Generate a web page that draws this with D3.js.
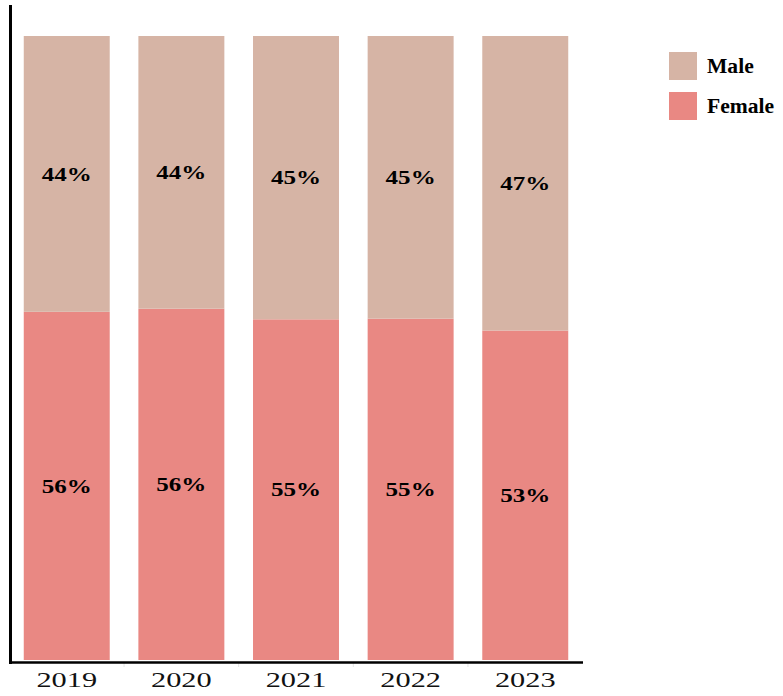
<!DOCTYPE html>
<html>
<head>
<meta charset="utf-8">
<script src="https://cdn.jsdelivr.net/npm/d3@7"></script>
<style>
  body { margin: 0; background: #fff; }
  svg text { font-family: 'Liberation Serif', 'Times New Roman', Times, 'DejaVu Serif', serif; }
</style>
</head>
<body>
<svg id="chart"></svg>
<script>
const width = 783;
const height = 696;

const years = ['2019', '2020', '2021', '2022', '2023'];
const female = [55.8, 56.3, 54.6, 54.7, 52.8];
const male = [44.2, 43.7, 45.4, 45.3, 47.2];
const keys = ['Female', 'Male'];
const legendKeys = ['Male', 'Female'];

const colors = {Male: '#d6b4a5', Female: '#e98883'};

const rows = years.map((year, i) => ({year, Female: female[i], Male: male[i]}));

const svg = d3.select('#chart')
  .attr('width', width)
  .attr('height', height);

const x = d3.scaleBand()
  .domain(years)
  .range([10, 582])
  .paddingInner(0.25)
  .paddingOuter(0.12);

const y = d3.scaleLinear()
  .domain([0, 100])
  .range([660, 36]);

const stacked = d3.stack().keys(keys)(rows);

const layer = svg.selectAll('.layer')
  .data(stacked)
  .enter()
  .append('g')
    .attr('class', 'layer')
    .attr('fill', s => colors[s.key]);

layer.selectAll('rect')
  .data(s => s)
  .enter()
  .append('rect')
    .attr('x', d => x(d.data.year))
    .attr('width', x.bandwidth())
    .attr('y', d => y(d[1]))
    .attr('height', d => y(d[0]) - y(d[1]));

// percent labels, centred in each segment
layer.selectAll('text')
  .data(s => s)
  .enter()
  .append('text')
    .attr('transform', d => {
      const cx = x(d.data.year) + x.bandwidth() / 2;
      const cy = (y(d[0]) + y(d[1])) / 2;
      return `translate(${cx},${cy}) scale(1.32,1)`;
    })
    .attr('text-anchor', 'middle')
    .attr('dy', '0.35em')
    .style('font-size', '19px')
    .style('font-weight', 'bold')
    .attr('fill', '#000')
    .text(d => Math.round(d[1] - d[0]) + '%');

// faint separators under the axis
svg.selectAll('.sep')
  .data(years.slice(1))
  .enter()
  .append('line')
    .attr('class', 'sep')
    .attr('x1', d => x(d) - x.step() * x.paddingInner() / 2)
    .attr('x2', d => x(d) - x.step() * x.paddingInner() / 2)
    .attr('y1', 663)
    .attr('y2', 667)
    .attr('stroke', '#e4e4e4')
    .attr('stroke-width', 1);

const xAxis = svg.append('g')
  .attr('transform', 'translate(0,662.5)')
  .call(d3.axisBottom(x).tickSize(0).tickSizeOuter(0).tickPadding(8));

xAxis.attr('font-family', null);

xAxis.select('.domain')
  .attr('stroke', '#000')
  .attr('stroke-width', 2.5)
  .attr('d', 'M9,0H583');

xAxis.selectAll('text')
  .style('font-size', '22px')
  .attr('fill', '#111')
  .attr('y', 0)
  .attr('dy', 0)
  .attr('transform', 'translate(0,24) scale(1.38,1)');

// left axis line
svg.append('line')
  .attr('x1', 10.5)
  .attr('x2', 10.5)
  .attr('y1', 5)
  .attr('y2', 664)
  .attr('stroke', '#000')
  .attr('stroke-width', 3);

// legend
const legend = svg.selectAll('.legend')
  .data(legendKeys)
  .enter()
  .append('g')
    .attr('class', 'legend')
    .attr('transform', (d, i) => `translate(669,${52 + i * 40})`);

legend.append('rect')
  .attr('width', 28)
  .attr('height', 28)
  .attr('fill', d => colors[d]);

legend.append('text')
  .attr('transform', 'translate(38,14) scale(1.08,1)')
  .attr('dy', '0.35em')
  .style('font-size', '20px')
  .style('font-weight', 'bold')
  .attr('fill', '#000')
  .text(d => d);
</script>
</body>
</html>
